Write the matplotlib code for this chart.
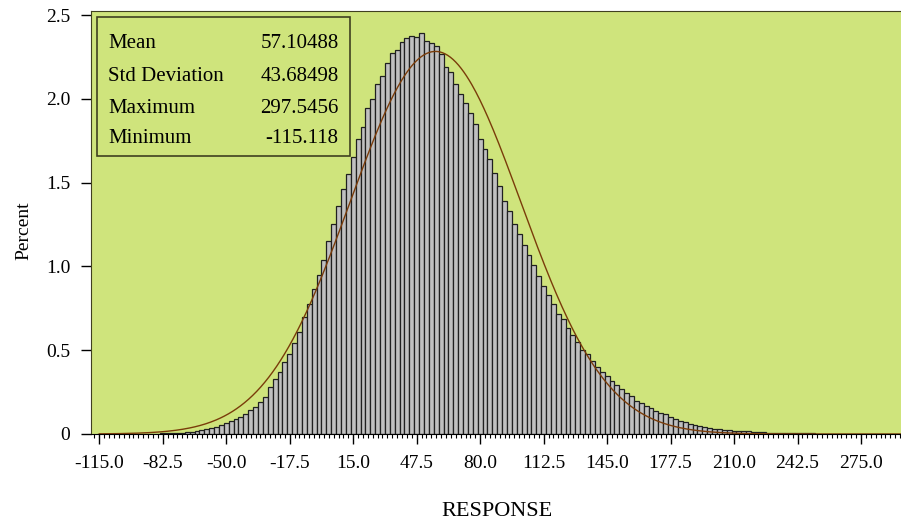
import numpy as np
import matplotlib
matplotlib.use("Agg")
import matplotlib.pyplot as plt
from matplotlib.patches import Rectangle
from matplotlib.ticker import MultipleLocator, FormatStrFormatter

plt.rcParams['font.family'] = ['Liberation Serif', 'DejaVu Serif']

# histogram midpoints (bin width 2.5) and percent per bin
bin_width = 2.5
midpoints = np.arange(-115, 297.5 + 0.01, bin_width)
percent = [
    0.0005, 0.0005, 0.0005, 0.0007, 0.0007, 0.001, 0.001, 0.0012, 0.0015, 0.0015,
    0.002, 0.002, 0.0025, 0.003, 0.003,
    0.004, 0.006, 0.008, 0.011, 0.014, 0.018,
    0.024, 0.030, 0.036, 0.044, 0.052, 0.064, 0.076, 0.088, 0.100, 0.118,
    0.141, 0.159, 0.189, 0.223, 0.279,
    0.328, 0.372, 0.431, 0.477, 0.545, 0.610, 0.696, 0.776, 0.863, 0.947,
    1.04, 1.15,
    1.251, 1.360, 1.462, 1.551, 1.655, 1.758, 1.834, 1.947, 1.999, 2.090,
    2.138, 2.216, 2.275, 2.289, 2.337, 2.361, 2.375, 2.371, 2.394, 2.347, 2.331, 2.313,
    2.267, 2.192, 2.162, 2.088, 2.029, 1.977, 1.913, 1.850, 1.760, 1.700, 1.641, 1.559, 1.478,
    1.392, 1.332, 1.251, 1.191, 1.126, 1.070, 1.006, 0.945, 0.881, 0.829, 0.776, 0.718, 0.684, 0.631,
    0.591, 0.551, 0.501, 0.475, 0.437, 0.402, 0.368, 0.346, 0.318, 0.292, 0.268, 0.243, 0.227,
    0.199, 0.183, 0.169, 0.153,
    0.137, 0.127, 0.117, 0.103, 0.089, 0.079, 0.070, 0.060, 0.054, 0.048, 0.040, 0.038,
    0.030, 0.028, 0.024, 0.022, 0.020, 0.019, 0.016, 0.015, 0.012, 0.010, 0.010,
    0.008, 0.007, 0.006, 0.006, 0.005, 0.005, 0.004, 0.004, 0.003, 0.003,
    0.002, 0.002, 0.002, 0.0015, 0.0015, 0.001, 0.001, 0.001, 0.0008, 0.0008,
    0.0006, 0.0005, 0.0005, 0.0004, 0.0003, 0.0003, 0.0002, 0.0002, 0.0001,
]

stat_names = ['Mean', 'Std Deviation', 'Maximum', 'Minimum']
stat_values = ['57.10488', '43.68498', '297.5456', '-115.118']
mean, std = 57.10488, 43.68498

xticks = np.arange(-115, 275 + 0.1, 32.5)
yticks = [0, 0.5, 1.0, 1.5, 2.0, 2.5]
ytick_labels = ['0', '0.5', '1.0', '1.5', '2.0', '2.5']

green = '#cfe47c'

fig = plt.figure(figsize=(9.01, 5.21), dpi=100)
ax = fig.add_axes([91/901, 87/521, 812/901, 423.3/521])
ax.set_facecolor(green)

ax.bar(midpoints, percent, width=bin_width, color='#c0c0c0',
       edgecolor='#202020', linewidth=0.9, zorder=2)

# fitted normal curve, scaled to percent per bin
xs = np.linspace(-115, 297.5, 600)
ys = 100 * bin_width * np.exp(-0.5 * ((xs - mean) / std) ** 2) / (std * np.sqrt(2 * np.pi))
ax.plot(xs, ys, color='#7a3c0a', linewidth=1.0, zorder=3)

ax.set_xlim(-119.25, 296.5)
ax.set_ylim(0, 2.526)
ax.set_xticks(xticks)
ax.xaxis.set_major_formatter(FormatStrFormatter('%.1f'))
ax.xaxis.set_minor_locator(MultipleLocator(2.5))
ax.set_yticks(yticks)
ax.set_yticklabels(ytick_labels)
ax.tick_params(axis='both', which='major', direction='out', length=7, width=1,
               labelsize=14, pad=8)
ax.tick_params(axis='x', which='minor', direction='out', length=3, width=0.8)
for s in ax.spines.values():
    s.set_color('#404020')
ax.spines['bottom'].set_color('black')

ax.set_xlabel('RESPONSE', fontsize=16, labelpad=22)
ax.set_ylabel('Percent', fontsize=14)
ax.yaxis.set_label_coords(-0.072, 0.48)

# statistics inset box
ax.add_patch(Rectangle((0.007, 0.657), 0.312, 0.329, transform=ax.transAxes,
                       facecolor=green, edgecolor='#404020', linewidth=1.2, zorder=4))
rows_y = [0.922, 0.845, 0.769, 0.699]
for name, val, yy in zip(stat_names, stat_values, rows_y):
    ax.text(0.0214, yy, name, transform=ax.transAxes, fontsize=15,
            ha='left', va='center', zorder=5)
    ax.text(0.305, yy, val, transform=ax.transAxes, fontsize=15,
            ha='right', va='center', zorder=5)

fig.savefig('out.png', dpi=100)
